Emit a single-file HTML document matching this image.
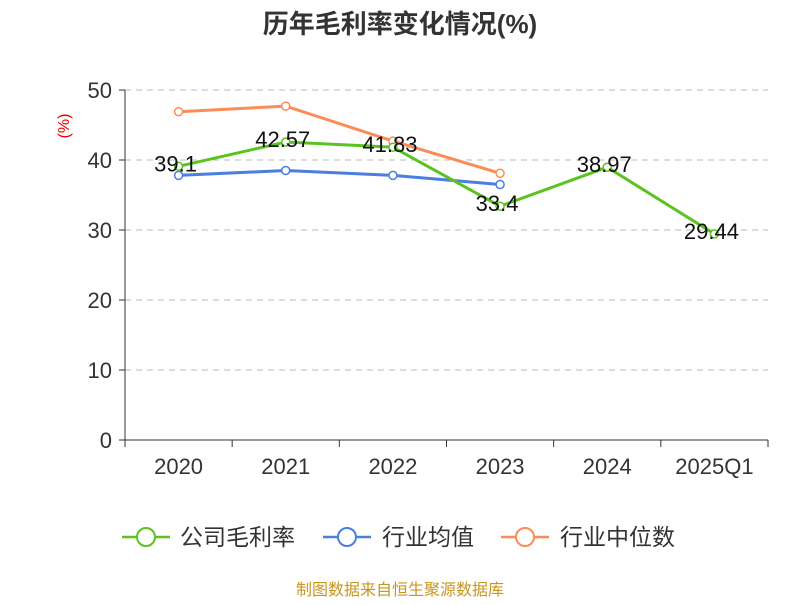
<!DOCTYPE html>
<html><head><meta charset="utf-8"><style>
body{margin:0;background:#fff;font-family:"Liberation Sans","Noto Sans CJK SC",sans-serif;}
</style></head><body>
<svg width="800" height="600" xmlns="http://www.w3.org/2000/svg" id="chart">
<text x="400" y="33" text-anchor="middle" font-size="26" font-weight="bold" fill="#333">历年毛利率变化情况(%)</text>
<text x="69" y="126" text-anchor="middle" font-size="16" fill="#e00" transform="rotate(-90 69 126)">(%)</text>
<g id="grid"></g><g id="axes"></g><g id="series"></g>
<g>
<g><line x1="122" y1="537" x2="170" y2="537" stroke="#5ac31e" stroke-width="2.5"/><circle cx="146" cy="537" r="9" fill="#fff" stroke="#5ac31e" stroke-width="2"/><text x="180" y="545" font-size="23" fill="#333">公司毛利率</text></g>
<g><line x1="323" y1="537" x2="371" y2="537" stroke="#4a7ee0" stroke-width="2.5"/><circle cx="347" cy="537" r="9" fill="#fff" stroke="#4a7ee0" stroke-width="2"/><text x="382" y="545" font-size="23" fill="#333">行业均值</text></g>
<g><line x1="501" y1="537" x2="549" y2="537" stroke="#fa8c55" stroke-width="2.5"/><circle cx="525" cy="537" r="9" fill="#fff" stroke="#fa8c55" stroke-width="2"/><text x="560" y="545" font-size="23" fill="#333">行业中位数</text></g>
</g>
<text x="400" y="595" text-anchor="middle" font-size="16" fill="#c8961e">制图数据来自恒生聚源数据库</text>
</svg>
<script>
const categories=["2020","2021","2022","2023","2024","2025Q1"];
const companyValues=[39.1,42.57,41.83,33.4,38.97,29.44];
const avgValues=[37.8,38.5,37.8,36.5,null,null];
const medianValues=[46.9,47.7,42.7,38.1,null,null];
const yTicks=[0,10,20,30,40,50];
const NS="http://www.w3.org/2000/svg";
const x0=125,x1=768,yBase=440,yTop=90;
const band=(x1-x0)/categories.length;
const xs=i=>x0+band*(i+0.5);
const ys=v=>yBase-(v/50)*(yBase-yTop);
function mk(tag,attrs,parent,txt){const e=document.createElementNS(NS,tag);for(const k in attrs)e.setAttribute(k,attrs[k]);if(txt!=null)e.textContent=txt;parent.appendChild(e);return e;}
const grid=document.getElementById('grid'),axes=document.getElementById('axes'),series=document.getElementById('series');
yTicks.forEach(t=>{const y=ys(t);
 if(t>0){const g=mk('line',{x1:x0,y1:y,x2:x1,y2:y,stroke:'#bbb','stroke-dasharray':'6,5'},grid);}
 const tk=mk('line',{x1:x0-6,y1:y,x2:x0,y2:y,stroke:'#333'},axes);
 const l=mk('text',{x:x0-13,y:y+8,'text-anchor':'end','font-size':'22',fill:'#333'},axes,String(t));
});
const ya=mk('line',{x1:x0,y1:yTop,x2:x0,y2:yBase,stroke:'#333'},axes);
const xa=mk('line',{x1:x0,y1:yBase,x2:x1,y2:yBase,stroke:'#333'},axes);
for(let i=0;i<=categories.length;i++){const x=x0+band*i;const t=mk('line',{x1:x,y1:yBase,x2:x,y2:yBase+7,stroke:'#333'},axes);}
categories.forEach((c,i)=>{const l=mk('text',{x:xs(i),y:yBase+34,'text-anchor':'middle','font-size':'22',fill:'#333'},axes,c);});
function draw(vals,color,name,labels){
 const pts=vals.map((v,i)=>v==null?null:[xs(i),ys(v)]).filter(p=>p);
 const pl=mk('polyline',{points:pts.map(p=>p.join(',')).join(' '),fill:'none',stroke:color,'stroke-width':'3'},series);
 
 vals.forEach((v,i)=>{if(v==null)return;
  const c=mk('circle',{cx:xs(i),cy:ys(v),r:4,fill:'#fff',stroke:color,'stroke-width':'1.5'},series);
  
 });
 if(labels)vals.forEach((v,i)=>{const t=mk('text',{x:xs(i)-3,y:ys(v)+5,'text-anchor':'middle','font-size':'22',fill:'#111'},series,String(v));});
}
draw(medianValues,'#fa8c55','industry-median',false);
draw(avgValues,'#4a7ee0','industry-avg',false);
draw(companyValues,'#5ac31e','company',true);
</script>
</body></html>
